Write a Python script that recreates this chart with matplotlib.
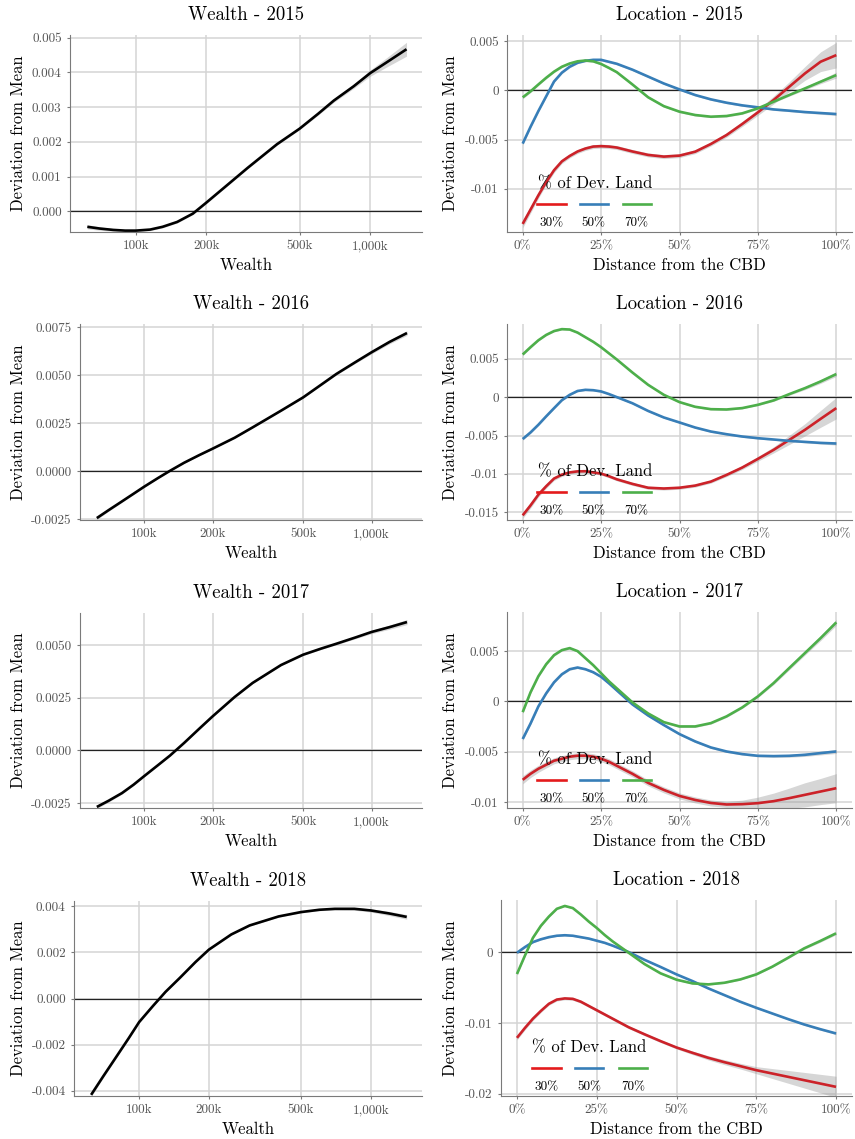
import numpy as np
import matplotlib.pyplot as plt
from matplotlib.ticker import NullLocator

plt.rcParams['font.family'] = 'cmr10'
plt.rcParams['axes.formatter.use_mathtext'] = True
plt.rcParams['axes.unicode_minus'] = False

W, H = 855, 1139
years = [2015, 2016, 2017, 2018]

# ---- wealth effect (left column) ----
wealth = [62e3, 70e3, 80e3, 90e3, 100e3, 115e3, 130e3, 150e3, 175e3, 200e3,
          250e3, 300e3, 400e3, 500e3, 600e3, 700e3, 850e3, 1000e3, 1200e3, 1430e3]
wealth_2015 = [-0.00045, -0.0005, -0.00054, -0.00056, -0.00056, -0.00053, -0.00045, -0.00031, -0.00007, 0.00025,
               0.0008, 0.00125, 0.00193, 0.00238, 0.00281, 0.00319, 0.0036, 0.00398, 0.00433, 0.00467]
wealth_2016 = [-0.00243, -0.00201, -0.00156, -0.00116, -0.0008, -0.00035, 0.00003, 0.00045, 0.00085, 0.00118,
               0.00175, 0.00229, 0.00316, 0.00385, 0.00451, 0.00507, 0.00569, 0.0062, 0.00674, 0.0072]
wealth_2017 = [-0.00269, -0.00239, -0.00203, -0.00163, -0.00123, -0.00071, -0.00025, 0.00035, 0.00103, 0.00161,
               0.00253, 0.0032, 0.00405, 0.00454, 0.00483, 0.00506, 0.00536, 0.00562, 0.00585, 0.00609]
wealth_2018 = [-0.00418, -0.00337, -0.0025, -0.00173, -0.00102, -0.00031, 0.00029, 0.0009, 0.00158, 0.00212,
               0.00278, 0.00317, 0.00356, 0.00375, 0.00385, 0.00389, 0.00389, 0.00382, 0.00369, 0.00354]
wealth_se_2015 = [0.00006, 0.00005, 0.00004, 0.00003, 0.00003, 0.00003, 0.00003, 0.00003, 0.00003, 0.00003,
                  0.00003, 0.00003, 0.00003, 0.00003, 0.00004, 0.00005, 0.00006, 0.00009, 0.00014, 0.0002]
wealth_se_2016 = [0.00008, 0.00006, 0.00005, 0.00004, 0.00004, 0.00003, 0.00003, 0.00003, 0.00003, 0.00003,
                  0.00003, 0.00003, 0.00003, 0.00004, 0.00004, 0.00005, 0.00006, 0.00008, 0.0001, 0.00012]
wealth_se_2017 = [0.00008, 0.00006, 0.00005, 0.00004, 0.00004, 0.00003, 0.00003, 0.00003, 0.00003, 0.00003,
                  0.00003, 0.00003, 0.00003, 0.00004, 0.00004, 0.00005, 0.00006, 0.00008, 0.0001, 0.00012]
wealth_se_2018 = [0.00008, 0.00006, 0.00005, 0.00004, 0.00004, 0.00003, 0.00003, 0.00003, 0.00003, 0.00003,
                  0.00003, 0.00003, 0.00003, 0.00004, 0.00004, 0.00005, 0.00006, 0.00007, 0.00009, 0.0001]

wealth_ticks = [1e5, 2e5, 5e5, 1e6]
wealth_ticklabels = ['100k', '200k', '500k', '1,000k']

# ---- location effect (right column) ----
dist = [0, 2.5, 5, 7.5, 10, 12.5, 15, 17.5, 20, 22.5, 25, 27.5, 30,
        35, 40, 45, 50, 55, 60, 65, 70, 75, 80, 85, 90, 95, 100]
dev_land = ['30%', '50%', '70%']
dev_colors = ['#E41A1C', '#377EB8', '#4DAF4A']
line_colors = ['#CC2229', '#377EB8', '#4DAF4A']

loc_2015_30 = [-0.01355, -0.0121, -0.01065, -0.0093, -0.0081, -0.0072, -0.00665, -0.0062, -0.0059, -0.0057, -0.00566, -0.0057, -0.0058,
               -0.0062, -0.00655, -0.00672, -0.00662, -0.00622, -0.00544, -0.00453, -0.00341, -0.00223, -0.00098, 0.00037, 0.00172, 0.00291, 0.00358]
loc_2015_50 = [-0.0054, -0.0037, -0.0021, -0.0006, 0.0009, 0.0018, 0.0024, 0.0028, 0.003, 0.0031, 0.0031, 0.0029, 0.0027,
               0.0021, 0.0014, 0.0007, 0.0001, -0.00047, -0.00091, -0.00125, -0.00152, -0.00172, -0.00193, -0.00206, -0.0022, -0.0023, -0.0024]
loc_2015_70 = [-0.00071, -0.0001, 0.0006, 0.00128, 0.0019, 0.0024, 0.00273, 0.00295, 0.00303, 0.00295, 0.00268, 0.00228, 0.00185,
               0.0006, -0.0007, -0.0016, -0.00216, -0.0025, -0.00267, -0.0026, -0.00233, -0.00182, -0.00115, -0.00047, 0.0002, 0.00088, 0.00155]

loc_2016_30 = [-0.0154, -0.0141, -0.0127, -0.0116, -0.0106, -0.0101, -0.0098, -0.00967, -0.00965, -0.0098, -0.00996, -0.0103, -0.0107,
               -0.0113, -0.0118, -0.0119, -0.0118, -0.01152, -0.011, -0.01013, -0.00917, -0.00804, -0.00687, -0.00557, -0.00426, -0.00283, -0.00143]
loc_2016_50 = [-0.00546, -0.0046, -0.0036, -0.0025, -0.00144, -0.0004, 0.0003, 0.0008, 0.00095, 0.0009, 0.00074, 0.0004, 0.0,
               -0.0008, -0.0018, -0.00265, -0.0033, -0.00396, -0.00448, -0.00483, -0.00513, -0.00535, -0.00552, -0.0057, -0.00583, -0.00596, -0.00604]
loc_2016_70 = [0.00555, 0.0065, 0.0074, 0.0081, 0.0086, 0.00885, 0.0088, 0.0084, 0.0078, 0.0072, 0.0065, 0.0057, 0.0049,
               0.0032, 0.0016, 0.0003, -0.00065, -0.00126, -0.00157, -0.00161, -0.00143, -0.001, -0.00043, 0.00039, 0.00117, 0.00204, 0.003]

loc_2017_30 = [-0.0078, -0.0072, -0.0067, -0.0063, -0.0059, -0.0057, -0.0055, -0.0054, -0.0054, -0.0055, -0.0057, -0.006, -0.0064,
               -0.0072, -0.0081, -0.0088, -0.0094, -0.0098, -0.0101, -0.01025, -0.01022, -0.01012, -0.00992, -0.00962, -0.00929, -0.00896, -0.00863]
loc_2017_50 = [-0.00374, -0.0022, -0.0005, 0.0008, 0.0019, 0.0027, 0.0032, 0.00337, 0.0032, 0.0029, 0.00245, 0.0018, 0.0011,
               -0.0003, -0.0014, -0.00235, -0.00325, -0.00398, -0.00458, -0.00498, -0.00524, -0.00541, -0.00544, -0.00541, -0.00531, -0.00514, -0.00498]
loc_2017_70 = [-0.00107, 0.0009, 0.0025, 0.0037, 0.0046, 0.0051, 0.0053, 0.005, 0.0043, 0.0036, 0.0028, 0.002, 0.0013,
               -0.0001, -0.0012, -0.00206, -0.00249, -0.00249, -0.00216, -0.00149, -0.0006, 0.0005, 0.00182, 0.00332, 0.00481, 0.0063, 0.00786]

loc_2018_30 = [-0.0121, -0.0107, -0.0094, -0.0083, -0.0073, -0.0067, -0.00654, -0.0066, -0.007, -0.0076, -0.0082, -0.0088, -0.0094,
               -0.0106, -0.0116, -0.01256, -0.01346, -0.01421, -0.01492, -0.01553, -0.01609, -0.01666, -0.01713, -0.0176, -0.01807, -0.01854, -0.01901]
loc_2018_50 = [-0.0001, 0.0007, 0.0014, 0.0018, 0.0021, 0.0023, 0.00237, 0.0023, 0.0021, 0.0019, 0.0016, 0.0013, 0.0009,
               0.0, -0.0011, -0.0021, -0.00315, -0.00409, -0.00513, -0.00607, -0.00701, -0.00786, -0.00866, -0.00946, -0.01021, -0.01087, -0.01148]
loc_2018_70 = [-0.0031, -0.0005, 0.002, 0.0037, 0.005, 0.0061, 0.0065, 0.0062, 0.0053, 0.0043, 0.0034, 0.0024, 0.0015,
               -0.0001, -0.0017, -0.003, -0.0039, -0.00442, -0.00456, -0.00433, -0.00386, -0.00315, -0.00207, -0.0008, 0.00052, 0.00155, 0.00264]

# confidence band half widths
se_2015_30 = [0.0004, 0.00035, 0.0003, 0.00027, 0.00025, 0.00022, 0.0002, 0.0002, 0.0002, 0.0002, 0.0002, 0.0002, 0.0002,
              0.0002, 0.0002, 0.0002, 0.0002, 0.0002, 0.0002, 0.00022, 0.00025, 0.0003, 0.0004, 0.0005, 0.0007, 0.001, 0.0013]
se_2015_50 = [0.00015, 0.00012, 0.0001, 0.0001, 0.0001, 0.0001, 0.0001, 0.0001, 0.0001, 0.0001, 0.0001, 0.0001, 0.0001,
              0.0001, 0.0001, 0.0001, 0.0001, 0.0001, 0.0001, 0.0001, 0.0001, 0.0001, 0.0001, 0.0001, 0.0001, 0.00012, 0.00015]
se_2015_70 = [0.00015, 0.00012, 0.0001, 0.0001, 0.0001, 0.0001, 0.0001, 0.0001, 0.0001, 0.0001, 0.0001, 0.0001, 0.0001,
              0.0001, 0.0001, 0.0001, 0.0001, 0.0001, 0.0001, 0.0001, 0.0001, 0.0001, 0.0001, 0.00012, 0.00015, 0.0002, 0.0003]
se_2016_30 = [0.0004, 0.00035, 0.0003, 0.00027, 0.00025, 0.00022, 0.0002, 0.0002, 0.0002, 0.0002, 0.0002, 0.0002, 0.0002,
              0.0002, 0.0002, 0.0002, 0.0002, 0.0002, 0.0002, 0.00022, 0.00025, 0.0003, 0.0004, 0.0006, 0.0008, 0.0011, 0.0014]
se_2016_50 = [0.00015, 0.00012, 0.0001, 0.0001, 0.0001, 0.0001, 0.0001, 0.0001, 0.0001, 0.0001, 0.0001, 0.0001, 0.0001,
              0.0001, 0.0001, 0.0001, 0.0001, 0.0001, 0.0001, 0.0001, 0.0001, 0.0001, 0.0001, 0.0001, 0.00012, 0.00015, 0.0002]
se_2016_70 = [0.00015, 0.00012, 0.0001, 0.0001, 0.0001, 0.0001, 0.0001, 0.0001, 0.0001, 0.0001, 0.0001, 0.0001, 0.0001,
              0.0001, 0.0001, 0.0001, 0.0001, 0.0001, 0.0001, 0.0001, 0.0001, 0.0001, 0.00012, 0.00015, 0.0002, 0.00025, 0.0003]
se_2017_30 = [0.0004, 0.00037, 0.00035, 0.00032, 0.0003, 0.0003, 0.0003, 0.0003, 0.0003, 0.0003, 0.0003, 0.0003, 0.0003,
              0.0003, 0.0003, 0.0003, 0.0003, 0.0003, 0.0003, 0.0003, 0.0004, 0.0006, 0.0008, 0.001, 0.0012, 0.0013, 0.00145]
se_2017_50 = [0.00015, 0.00012, 0.0001, 0.0001, 0.0001, 0.0001, 0.0001, 0.0001, 0.0001, 0.0001, 0.0001, 0.0001, 0.0001,
              0.0001, 0.0001, 0.0001, 0.0001, 0.0001, 0.0001, 0.0001, 0.0001, 0.0001, 0.00012, 0.00014, 0.00016, 0.00018, 0.0002]
se_2017_70 = [0.00015, 0.00012, 0.0001, 0.0001, 0.0001, 0.0001, 0.0001, 0.0001, 0.0001, 0.0001, 0.0001, 0.0001, 0.0001,
              0.0001, 0.0001, 0.0001, 0.0001, 0.0001, 0.0001, 0.0001, 0.0001, 0.00012, 0.00015, 0.00018, 0.0002, 0.00025, 0.0003]
se_2018_30 = [0.0003, 0.00027, 0.00025, 0.00022, 0.0002, 0.0002, 0.0002, 0.0002, 0.0002, 0.0002, 0.0002, 0.0002, 0.0002,
              0.0002, 0.0002, 0.0002, 0.0002, 0.00025, 0.0003, 0.00035, 0.0004, 0.0005, 0.0007, 0.0009, 0.0011, 0.0013, 0.0015]
se_2018_50 = [0.00015, 0.00012, 0.0001, 0.0001, 0.0001, 0.0001, 0.0001, 0.0001, 0.0001, 0.0001, 0.0001, 0.0001, 0.0001,
              0.0001, 0.0001, 0.0001, 0.0001, 0.0001, 0.0001, 0.0001, 0.0001, 0.0001, 0.0001, 0.0001, 0.00012, 0.00014, 0.00016]
se_2018_70 = [0.00015, 0.00012, 0.0001, 0.0001, 0.0001, 0.0001, 0.0001, 0.0001, 0.0001, 0.0001, 0.0001, 0.0001, 0.0001,
              0.0001, 0.0001, 0.0001, 0.0001, 0.0001, 0.0001, 0.0001, 0.0001, 0.0001, 0.0001, 0.00012, 0.00015, 0.00018, 0.0002]

wealth_y = {2015: wealth_2015, 2016: wealth_2016, 2017: wealth_2017, 2018: wealth_2018}
wealth_se = {2015: wealth_se_2015, 2016: wealth_se_2016, 2017: wealth_se_2017, 2018: wealth_se_2018}
loc_y = {2015: [loc_2015_30, loc_2015_50, loc_2015_70],
         2016: [loc_2016_30, loc_2016_50, loc_2016_70],
         2017: [loc_2017_30, loc_2017_50, loc_2017_70],
         2018: [loc_2018_30, loc_2018_50, loc_2018_70]}
loc_se = {2015: [se_2015_30, se_2015_50, se_2015_70],
          2016: [se_2016_30, se_2016_50, se_2016_70],
          2017: [se_2017_30, se_2017_50, se_2017_70],
          2018: [se_2018_30, se_2018_50, se_2018_70]}

wealth_yticks = {2015: ([0, 0.001, 0.002, 0.003, 0.004, 0.005], ['0.000', '0.001', '0.002', '0.003', '0.004', '0.005']),
                 2016: ([-0.0025, 0, 0.0025, 0.005, 0.0075], ['-0.0025', '0.0000', '0.0025', '0.0050', '0.0075']),
                 2017: ([-0.0025, 0, 0.0025, 0.005], ['-0.0025', '0.0000', '0.0025', '0.0050']),
                 2018: ([-0.004, -0.002, 0, 0.002, 0.004], ['-0.004', '-0.002', '0.000', '0.002', '0.004'])}
loc_yticks = {2015: ([-0.01, -0.005, 0, 0.005], ['-0.01', '-0.005', '0', '0.005']),
              2016: ([-0.015, -0.01, -0.005, 0, 0.005], ['-0.015', '-0.01', '-0.005', '0', '0.005']),
              2017: ([-0.01, -0.005, 0, 0.005], ['-0.01', '-0.005', '0', '0.005']),
              2018: ([-0.02, -0.01, 0], ['-0.02', '-0.01', '0'])}
dist_ticks = [0, 25, 50, 75, 100]
dist_ticklabels = ['0%', '25%', '50%', '75%', '100%']

wealth_ylim = {2015: (-0.0006, 0.00508), 2016: (-0.00253, 0.00767), 2017: (-0.00274, 0.00652), 2018: (-0.00423, 0.00423)}
loc_ylim = {2015: (-0.01437, 0.00562), 2016: (-0.016, 0.00952), 2017: (-0.0106, 0.00889), 2018: (-0.0203, 0.00734)}

# panel boxes in pixels: left, top, right, bottom
left_boxes = {2015: (70, 35, 422, 232), 2016: (80, 324, 422, 520), 2017: (80, 613, 422, 808), 2018: (74, 901, 422, 1096)}
right_boxes = {2015: (507, 35, 852, 232), 2016: (507, 324, 852, 520), 2017: (507, 612, 852, 808), 2018: (501, 900, 852, 1096)}

GRID = '#d4d4d4'
TICKC = '#555555'
BAND = '#999999'


def make_axes(fig, box):
    l, t, r, b = box
    ax = fig.add_axes([l / W, 1 - b / H, (r - l) / W, (b - t) / H])
    for s in ['top', 'right']:
        ax.spines[s].set_visible(False)
    for s in ['left', 'bottom']:
        ax.spines[s].set_color('#7a7a7a')
        ax.spines[s].set_linewidth(0.8)
    ax.tick_params(colors='#7a7a7a', labelcolor=TICKC, labelsize=9.5, length=2.5, width=0.8)
    ax.grid(True, color=GRID, linewidth=1.1)
    ax.set_axisbelow(True)
    return ax


def labels(fig, box, title, xlabel, ylabel_x):
    l, t, r, b = box
    fig.text((l + r) / 2 / W, 1 - (t - 20) / H, title, ha='center', va='center', fontsize=13.5)
    fig.text((l + r) / 2 / W, 1 - (b + 33) / H, xlabel, ha='center', va='center', fontsize=12)
    fig.text(ylabel_x / W, 1 - (t + b) / 2 / H, 'Deviation from Mean', ha='center', va='center',
             rotation=90, fontsize=12)


fig = plt.figure(figsize=(W / 100, H / 100), dpi=100)

for yr in years:
    # wealth panel
    ax = make_axes(fig, left_boxes[yr])
    y = np.array(wealth_y[yr])
    se = np.array(wealth_se[yr])
    ax.set_xscale('log')
    ax.axhline(0, color='#222222', linewidth=0.9)
    ax.fill_between(wealth, y - se, y + se, color=BAND, alpha=0.4, linewidth=0)
    ax.plot(wealth, y, color='black', linewidth=1.9, solid_capstyle='butt')
    ax.set_xlim(52.3e3, 1.665e6)
    ax.set_ylim(*wealth_ylim[yr])
    ax.set_xticks(wealth_ticks)
    ax.set_xticklabels(wealth_ticklabels)
    ax.xaxis.set_minor_locator(NullLocator())
    ax.set_yticks(wealth_yticks[yr][0])
    ax.set_yticklabels(wealth_yticks[yr][1])
    labels(fig, left_boxes[yr], 'Wealth - %d' % yr, 'Wealth', 18)

    # location panel
    ax = make_axes(fig, right_boxes[yr])
    ax.axhline(0, color='#222222', linewidth=0.9)
    for vals, ses in zip(loc_y[yr], loc_se[yr]):
        v = np.array(vals)
        s = np.array(ses)
        ax.fill_between(dist, v - s, v + s, color=BAND, alpha=0.4, linewidth=0)
    for vals, col in zip(loc_y[yr], line_colors):
        ax.plot(dist, vals, color=col, linewidth=1.9, solid_capstyle='butt')
    ax.set_xlim(-5, 105)
    ax.set_ylim(*loc_ylim[yr])
    ax.set_xticks(dist_ticks)
    ax.set_xticklabels(dist_ticklabels)
    ax.set_yticks(loc_yticks[yr][0])
    ax.set_yticklabels(loc_yticks[yr][1])
    labels(fig, right_boxes[yr], 'Location - %d' % yr, 'Distance from the CBD', 450)

    # legend drawn inside the panel, labels under keys
    ax.text(0.089, 0.248, '% of Dev. Land', transform=ax.transAxes, ha='left', va='center', fontsize=12)
    key_x = [(0.087, 0.171), (0.211, 0.292), (0.335, 0.416)]
    for (x0, x1), col, lab in zip(key_x, dev_colors, dev_land):
        ax.plot([x0, x1], [0.141, 0.141], color=col, linewidth=1.9, transform=ax.transAxes, clip_on=False)
        ax.text((x0 + x1) / 2, 0.046, lab, transform=ax.transAxes, ha='center', va='center', fontsize=9.5)

fig.savefig('out.png', dpi=100)
